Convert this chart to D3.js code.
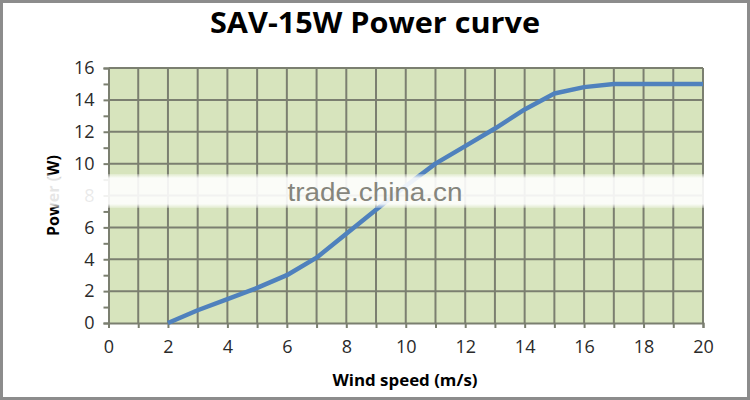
<!DOCTYPE html>
<html>
<head>
<meta charset="utf-8">
<script src="https://cdn.jsdelivr.net/npm/d3@7"></script>
<style>
  body { margin: 0; background: #fff; }
  svg { display: block; font-family: "Open Sans", "DejaVu Sans", sans-serif; }
</style>
</head>
<body>
<svg id="chart" width="750" height="400"></svg>
<script>
// power curve
var windSpeed = [2, 3, 4, 5, 6, 7, 8, 9, 10, 11, 12, 13, 14, 15, 16, 17, 18, 19, 20];
var power     = [0, 0.8, 1.5, 2.2, 3.0, 4.1, 5.6, 7.1, 8.6, 10.0, 11.1, 12.2, 13.4, 14.4, 14.8, 15, 15, 15, 15];
var xTicks = [0, 2, 4, 6, 8, 10, 12, 14, 16, 18, 20];
var yTicks = [0, 2, 4, 6, 8, 10, 12, 14, 16];

var svg = d3.select("#chart"),
    width = +svg.attr("width"),
    height = +svg.attr("height");

// plot box (note: "top" is reserved on window, so use p* names)
var pLeft = 108.5, pRight = 703, pTop = 68, pBottom = 323;

var x = d3.scaleLinear().domain([0, 20]).range([pLeft, pRight]);
var y = d3.scaleLinear().domain([0, 16]).range([pBottom, pTop]);

// frame
svg.append("rect")
    .attr("x", 1.5).attr("y", 1.5)
    .attr("width", width - 3).attr("height", height - 3)
    .attr("fill", "#fff")
    .attr("stroke", "#8c8c8c")
    .attr("stroke-width", 3);

svg.append("text")
    .attr("x", 375).attr("y", 33)
    .attr("text-anchor", "middle")
    .attr("font-size", 28)
    .attr("font-weight", "bold")
    .attr("fill", "#000")
    .attr("textLength", 330)
    .attr("lengthAdjust", "spacingAndGlyphs")
    .text("SAV-15W Power curve");

// plot area
svg.append("rect")
    .attr("x", pLeft).attr("y", pTop)
    .attr("width", pRight - pLeft).attr("height", pBottom - pTop)
    .attr("fill", "#d7e4bd");

var gridColor = "#7b7f70";

svg.append("g")
    .selectAll("line")
    .data(d3.range(1, 21))
    .enter().append("line")
    .attr("x1", function(d) { return x(d); })
    .attr("x2", function(d) { return x(d); })
    .attr("y1", pTop).attr("y2", pBottom)
    .attr("stroke", gridColor).attr("stroke-width", 2);

svg.append("g")
    .selectAll("line")
    .data(yTicks.slice(1))
    .enter().append("line")
    .attr("x1", pLeft).attr("x2", pRight)
    .attr("y1", function(d) { return y(d); })
    .attr("y2", function(d) { return y(d); })
    .attr("stroke", gridColor).attr("stroke-width", 2);

// axes
var xAxis = svg.append("g")
    .attr("transform", "translate(0," + pBottom + ")")
    .call(d3.axisBottom(x).tickValues(d3.range(0, 21)).tickSize(5).tickPadding(10)
        .tickFormat(function(d) { return xTicks.indexOf(d) >= 0 ? d : ""; }));

var yAxis = svg.append("g")
    .attr("transform", "translate(" + pLeft + ",0)")
    .call(d3.axisLeft(y).tickValues(d3.range(0, 17)).tickSize(5).tickPadding(9)
        .tickFormat(function(d) { return yTicks.indexOf(d) >= 0 ? d : ""; }));

[xAxis, yAxis].forEach(function(a) {
    a.select(".domain").attr("stroke", gridColor).attr("stroke-width", 2);
    a.selectAll(".tick line").attr("stroke", gridColor).attr("stroke-width", 2);
    a.selectAll(".tick text")
        .attr("font-size", 18)
        .attr("font-family", "'Open Sans', sans-serif")
        .attr("fill", "#2a2a2a");
});
xAxis.selectAll(".tick text").attr("dy", "0.85em");

// the curve
var line = d3.line()
    .x(function(d, i) { return x(windSpeed[i]); })
    .y(function(d) { return y(d); });

svg.append("path")
    .datum(power)
    .attr("d", line)
    .attr("fill", "none")
    .attr("stroke", "#4f81bd")
    .attr("stroke-width", 4.5)
    .attr("stroke-linejoin", "round");

// axis titles
svg.append("text")
    .attr("x", 405).attr("y", 386)
    .attr("text-anchor", "middle")
    .attr("font-size", 16)
    .attr("font-weight", "bold")
    .attr("textLength", 145)
    .attr("lengthAdjust", "spacingAndGlyphs")
    .text("Wind speed (m/s)");

svg.append("text")
    .attr("transform", "translate(59," + ((pTop + pBottom) / 2) + ") rotate(-90)")
    .attr("text-anchor", "middle")
    .attr("font-size", 16)
    .attr("font-weight", "bold")
    .text("Power (W)");

// watermark band
var defs = svg.append("defs");
var grad = defs.append("linearGradient").attr("id", "band").attr("x1", 0).attr("x2", 0).attr("y1", 0).attr("y2", 1);
grad.append("stop").attr("offset", 0).attr("stop-color", "#fff").attr("stop-opacity", 0.25);
grad.append("stop").attr("offset", 0.12).attr("stop-color", "#fff").attr("stop-opacity", 0.9);
grad.append("stop").attr("offset", 0.88).attr("stop-color", "#fff").attr("stop-opacity", 0.9);
grad.append("stop").attr("offset", 1).attr("stop-color", "#fff").attr("stop-opacity", 0.25);

svg.append("rect")
    .attr("x", 3).attr("y", 174)
    .attr("width", width - 6).attr("height", 34)
    .attr("fill", "url(#band)");

svg.append("text")
    .attr("x", 375).attr("y", 201)
    .attr("text-anchor", "middle")
    .attr("font-size", 26)
    .attr("font-family", "'Liberation Sans', Arial, sans-serif")
    .attr("fill", "#85857c")
    .attr("textLength", 175)
    .attr("lengthAdjust", "spacingAndGlyphs")
    .text("trade.china.cn");
</script>
</body>
</html>
